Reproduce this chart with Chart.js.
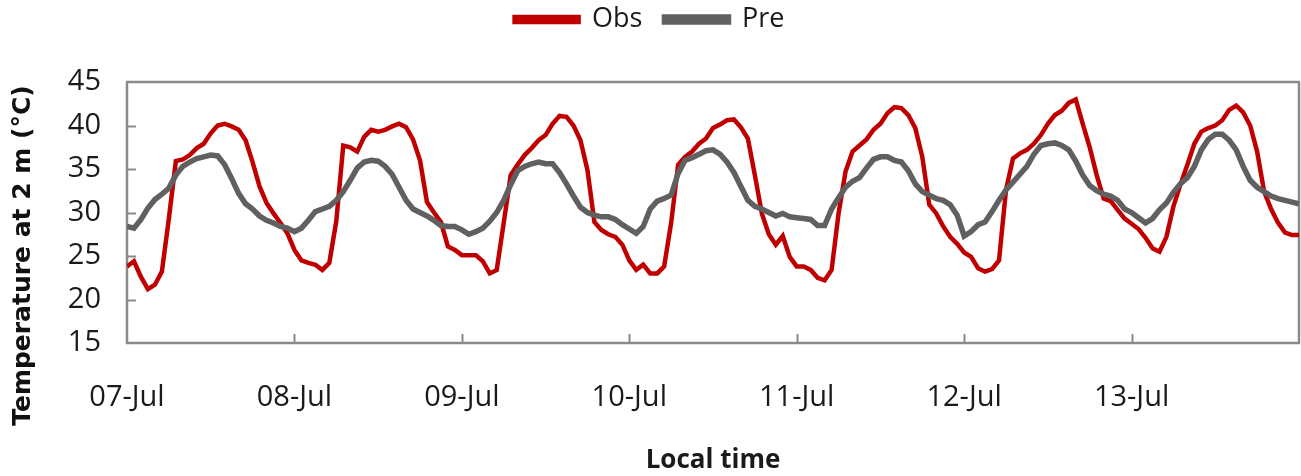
<!DOCTYPE html>
<html>
<head>
<meta charset="utf-8">
<script src="https://cdn.jsdelivr.net/npm/chart.js@4/dist/chart.umd.min.js"></script>
<style>
  html, body { margin: 0; padding: 0; background: #ffffff; }
  #wrap { width: 1301px; height: 476px; }
</style>
</head>
<body>
<div id="wrap"><canvas id="c" width="1301" height="476"></canvas></div>
<script>
// Day labels placed at every midnight (hour 0, 24, 48, ...)
const dayLabels = ['07-Jul', '08-Jul', '09-Jul', '10-Jul', '11-Jul', '12-Jul', '13-Jul'];
const yTitle = 'Temperature at 2 m (°C)';
const xTitle = 'Local time';

// Hourly 2 m temperature (°C), hour 0 = 07-Jul 00:00 ... hour 168 = 14-Jul 00:00
const obs = [
  23.8, 24.4, 22.6, 21.2, 21.7, 23.2, 29.3, 35.9, 36.1, 36.6, 37.4, 37.9,
  39.1, 40.0, 40.2, 39.9, 39.5, 38.3, 35.8, 33.0, 31.1, 29.9, 28.8, 27.6,
  25.7, 24.5, 24.2, 24.0, 23.4, 24.2, 29.0, 37.7, 37.5, 37.0, 38.7, 39.5,
  39.3, 39.5, 39.9, 40.2, 39.8, 38.4, 36.0, 31.2, 30.0, 28.9, 26.1, 25.7,
  25.1, 25.1, 25.1, 24.4, 23.0, 23.4, 28.8, 34.3, 35.5, 36.6, 37.4, 38.3,
  38.9, 40.2, 41.1, 41.0, 40.0, 38.3, 34.9, 28.9, 28.0, 27.5, 27.2, 26.3,
  24.5, 23.4, 24.0, 23.0, 23.0, 23.8, 28.8, 35.5, 36.4, 37.0, 37.9, 38.5,
  39.7, 40.1, 40.6, 40.7, 39.8, 38.5, 34.3, 29.9, 27.5, 26.3, 27.3, 24.9,
  23.8, 23.8, 23.4, 22.5, 22.2, 23.4, 29.9, 34.7, 37.0, 37.7, 38.4, 39.5,
  40.2, 41.4, 42.1, 42.0, 41.2, 39.7, 36.4, 30.9, 29.9, 28.4, 27.2, 26.4,
  25.4, 24.9, 23.6, 23.2, 23.5, 24.5, 32.6, 36.2, 36.8, 37.2, 37.9, 38.9,
  40.2, 41.2, 41.7, 42.6, 43.0, 40.2, 37.5, 34.3, 31.6, 31.3, 30.3, 29.3,
  28.7, 28.1, 27.1, 25.9, 25.5, 27.2, 30.7, 33.2, 35.5, 37.9, 39.3, 39.7,
  40.0, 40.6, 41.8, 42.3, 41.5, 40.0, 37.0, 32.4, 30.4, 28.8, 27.7, 27.4,
  27.4
];

const pre = [
  28.4, 28.2, 29.2, 30.5, 31.5, 32.1, 32.8, 34.3, 35.3, 35.8, 36.2, 36.4,
  36.6, 36.5, 35.5, 33.9, 32.2, 31.0, 30.4, 29.6, 29.1, 28.8, 28.4, 28.2,
  27.8, 28.2, 29.1, 30.1, 30.4, 30.7, 31.4, 32.4, 33.7, 35.1, 35.8, 36.0,
  35.9, 35.3, 34.4, 32.9, 31.4, 30.4, 30.0, 29.6, 29.1, 28.5, 28.4, 28.4,
  28.0, 27.5, 27.8, 28.2, 29.0, 30.0, 31.4, 33.2, 34.8, 35.3, 35.6, 35.8,
  35.6, 35.6, 34.6, 33.3, 31.9, 30.6, 30.0, 29.7, 29.5, 29.5, 29.2, 28.6,
  28.1, 27.6, 28.4, 30.4, 31.3, 31.6, 32.0, 34.5, 36.0, 36.3, 36.7, 37.1,
  37.2, 36.7, 35.8, 34.6, 33.0, 31.4, 30.7, 30.4, 30.0, 29.6, 29.9, 29.5,
  29.4, 29.3, 29.2, 28.5, 28.5, 30.4, 31.7, 32.9, 33.6, 34.0, 35.1, 36.1,
  36.4, 36.4, 36.0, 35.8, 34.8, 33.3, 32.4, 32.0, 31.6, 31.4, 30.9, 29.7,
  27.3, 27.8, 28.6, 28.9, 30.1, 31.4, 32.6, 33.5, 34.4, 35.3, 36.7, 37.7,
  37.9, 38.0, 37.7, 37.2, 35.9, 34.3, 33.1, 32.5, 32.1, 31.9, 31.4, 30.4,
  30.0, 29.4, 28.8, 29.3, 30.3, 31.1, 32.3, 33.3, 34.0, 35.3, 37.2, 38.4,
  39.0, 39.0, 38.3, 37.2, 35.3, 33.7, 32.9, 32.4, 31.9, 31.6, 31.4, 31.2,
  31.0
];

const HOURS_PER_DAY = 24;
const FRAME = '#8a8a8a';
const PLOT_TOP = 82;       // height reserved for the legend band
const LEGEND_LIFT = 16;    // pulls the legend row up inside that band

// Grey plot frame with short tick marks pointing into the plot area
const framePlugin = {
  id: 'frame',
  beforeDatasetsDraw(chart) {
    const { ctx, chartArea: a, scales: { x, y } } = chart;
    ctx.save();
    ctx.strokeStyle = FRAME;
    ctx.lineWidth = 2;
    for (const t of y.ticks) {
      if (t.value <= y.min || t.value >= y.max) continue;
      const py = Math.round(y.getPixelForValue(t.value)) + 0.5;
      ctx.beginPath();
      ctx.moveTo(a.left, py);
      ctx.lineTo(a.left + 9, py);
      ctx.stroke();
    }
    for (const t of x.ticks) {
      if (t.value <= x.min || t.value >= x.max) continue;
      const px = Math.round(x.getPixelForValue(t.value)) + 0.5;
      ctx.beginPath();
      ctx.moveTo(px, a.bottom);
      ctx.lineTo(px, a.bottom - 9);
      ctx.stroke();
    }
    ctx.lineWidth = 2.5;
    ctx.strokeRect(a.left, a.top, a.right - a.left, a.bottom - a.top);
    ctx.restore();
  },
  // vertical axis title, centred a little below the middle of the value axis
  afterDraw(chart) {
    const { ctx, chartArea: a } = chart;
    ctx.save();
    ctx.translate(23, a.top + (a.bottom - a.top) / 2 + 43);
    ctx.rotate(-Math.PI / 2);
    ctx.font = 'bold 25px "DejaVu Sans"';
    ctx.fillStyle = '#111111';
    ctx.textAlign = 'center';
    ctx.textBaseline = 'middle';
    ctx.fillText(yTitle, 0, 0);
    ctx.restore();
  }
};

// Fixed-height legend band above the plot
const legendBand = {
  id: 'legendBand',
  beforeInit(chart) {
    const fit = chart.legend.fit;
    chart.legend.fit = function () {
      fit.call(this);
      this.height = PLOT_TOP;
    };
  },
  afterLayout(chart) {
    chart.legend.top -= LEGEND_LIFT;
    chart.legend.bottom -= LEGEND_LIFT;
  }
};

const tickFont = { family: 'Open Sans', size: 29 };

new Chart(document.getElementById('c'), {
  type: 'line',
  data: {
    datasets: [
      {
        label: 'Obs',
        data: obs.map((v, i) => ({ x: i, y: v })),
        borderColor: '#C00000',
        backgroundColor: '#C00000',
        borderWidth: 4.5,
        pointRadius: 0,
        tension: 0,
        order: 2
      },
      {
        label: 'Pre',
        data: pre.map((v, i) => ({ x: i, y: v })),
        borderColor: '#606060',
        backgroundColor: '#606060',
        borderWidth: 5.5,
        pointRadius: 0,
        tension: 0,
        order: 1
      }
    ]
  },
  options: {
    responsive: false,
    animation: false,
    devicePixelRatio: 1,
    layout: { padding: { top: 0, left: 0, right: 2, bottom: 0 } },
    plugins: {
      legend: {
        position: 'top',
        labels: {
          font: { family: 'Open Sans', size: 27 },
          color: '#1a1a1a',
          boxWidth: 64,
          boxHeight: 5,
          padding: 22,
          sort: (a, b) => a.datasetIndex - b.datasetIndex
        }
      },
      tooltip: { enabled: false }
    },
    scales: {
      x: {
        type: 'linear',
        min: 0,
        max: 7 * HOURS_PER_DAY,
        grid: { display: false, drawTicks: false },
        border: { display: false },
        ticks: {
          stepSize: HOURS_PER_DAY,
          autoSkip: false,
          maxRotation: 0,
          font: tickFont,
          color: '#1a1a1a',
          padding: 37,
          callback: (v) => dayLabels[v / HOURS_PER_DAY] ?? ''
        },
        title: {
          display: true,
          text: xTitle,
          font: { family: 'Open Sans', size: 26, weight: 'bold' },
          color: '#1a1a1a',
          padding: { top: 0, bottom: 0 }
        },
        afterFit: (s) => { s.height = 133; s.paddingRight = 0; }
      },
      y: {
        min: 15,
        max: 45,
        grid: { display: false, drawTicks: false },
        border: { display: false },
        ticks: {
          stepSize: 5,
          font: tickFont,
          color: '#1a1a1a',
          padding: 26
        },
        afterFit: (s) => { s.width = 127; }
      }
    }
  },
  plugins: [framePlugin, legendBand]
});
</script>
</body>
</html>
